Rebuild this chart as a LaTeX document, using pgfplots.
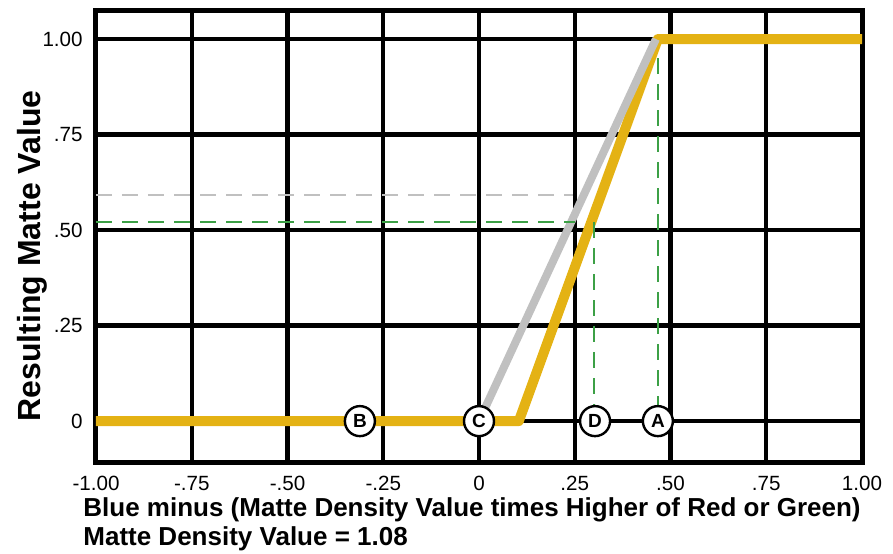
\documentclass[border=0pt]{standalone}
\usepackage{fontspec}
\setmainfont{Liberation Sans}
\usepackage{pgfplots}
\pgfplotsset{compat=1.18}
\usetikzlibrary{calc}
\definecolor{matteyellow}{RGB}{228,178,20}
\definecolor{mattegray}{RGB}{192,192,192}
\definecolor{mattegreen}{RGB}{60,160,70}

\begin{document}
\begin{tikzpicture}
  \begin{axis}[
    name = ax,
    scale only axis,
    width  = 383pt,
    height = 226pt,
    xmin = -1, xmax = 1,
    ymin = -0.107, ymax = 1.076,
    xtick = {-1,-0.75,-0.5,-0.25,0,0.25,0.5,0.75,1},
    xticklabels = {-1.00,-.75,-.50,-.25,0,.25,.50,.75,1.00},
    ytick = {0,0.25,0.5,0.75,1},
    yticklabels = {0,.25,.50,.75,1.00},
    major tick length = 0pt,
    grid = major,
    grid style = {black, line width=2.2pt},
    axis line style = {black, line width=2.5pt},
    tick label style = {font=\fontsize{10.3}{12}\selectfont, inner sep=0pt},
    xticklabel style = {anchor=base, yshift=-14pt},
    yticklabel style = {anchor=east, xshift=-6.5pt},
    clip = false,
    axis on top = false,
  ]
    % yellow: actual matte curve
    \addplot[matteyellow, line width=5pt, line join=round] coordinates {
      (-1,0) (0.104,0) (0.467,1) (1,1)
    };
    % gray: reference slope
    \addplot[mattegray, line width=4pt] coordinates {
      (0,0) (0.462,1)
    };
    % dashed guide lines
    \addplot[mattegray, dashed, line width=1.3pt, dash pattern=on 8pt off 5pt] coordinates {
      (-1,0.592) (0.245,0.592)
    };
    \addplot[mattegreen, line width=1.3pt, dash pattern=on 8pt off 5pt] coordinates {
      (-1,0.521) (0.25,0.521)
    };
    \addplot[mattegreen, line width=1.3pt, dash pattern=on 8pt off 5pt] coordinates {
      (0.30,0.521) (0.30,0.04)
    };
    \addplot[mattegreen, line width=1.3pt, dash pattern=on 8pt off 5pt] coordinates {
      (0.467,0.95) (0.467,0.04)
    };
    % labelled points
    \addplot[only marks, mark=*, mark size=7.5pt,
      mark options={fill=white, draw=black, line width=1.2pt},
      point meta=explicit symbolic,
      nodes near coords,
      every node near coord/.append style={anchor=center, inner sep=0pt,
        font=\fontsize{9.5}{10}\selectfont\bfseries, black},
    ] table[meta=lab] {
      x      y  lab
      -0.311 0  B
      0      0  C
      0.303  0  D
      0.467  0  A
    };

    \node[anchor=base west, inner sep=0pt, font=\fontsize{13}{15}\selectfont\bfseries]
      at ($(rel axis cs:0,0)+(-6.5pt,-27pt)$)
      {Blue minus (Matte Density Value times Higher of Red or Green)};
    \node[anchor=base west, inner sep=0pt, font=\fontsize{13}{15}\selectfont\bfseries]
      at ($(rel axis cs:0,0)+(-6.5pt,-41.8pt)$)
      {Matte Density Value = 1.08};
    \node[rotate=90, anchor=base, inner sep=0pt, font=\fontsize{16}{18}\selectfont\bfseries]
      at ($(rel axis cs:0,0.5)+(-27.5pt,-10pt)$)
      {Resulting Matte Value};

    \coordinate (ll) at (rel axis cs:0,0);
    \coordinate (ur) at (rel axis cs:1,1);
  \end{axis}
  \pgfresetboundingbox
  \path ($(ll)+(-48pt,-45.5pt)$) rectangle ($(ur)+(15.5pt,5pt)$);
\end{tikzpicture}
\end{document}
